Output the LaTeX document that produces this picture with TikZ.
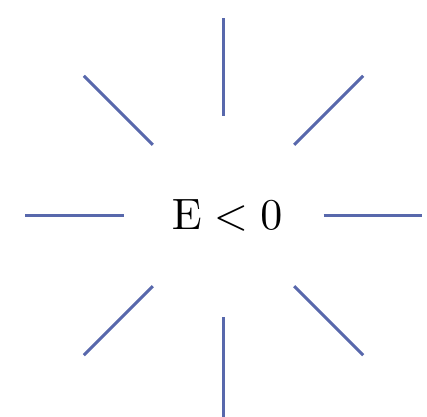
\documentclass[tikz,border=0pt]{standalone}
\definecolor{raycol}{RGB}{88,104,172}
\begin{document}
\begin{tikzpicture}[scale=0.8]
    \useasboundingbox (-2.235, -2.005) rectangle (2.035, 2.155);

    % 中间的文字
    \node (energy) at (0.035, 0) {$\mathrm{E} < 0$};

    % 横竖的线
    \draw[raycol, line width=0.7pt] (90:1) -- (90:1.975);
    \draw[raycol, line width=0.7pt] (270:1.015) -- (270:2.05);
    \draw[raycol, line width=0.7pt] (180:1) -- (180:1.985);
    \draw[raycol, line width=0.7pt] (0:1) -- (0:1.985);

    % 斜的线
    \draw[raycol, line width=0.7pt] (45:1) -- (45:1.975);
    \draw[raycol, line width=0.7pt] (135:1) -- (135:1.975);
    \draw[raycol, line width=0.7pt] (225:1) -- (225:1.975);
    \draw[raycol, line width=0.7pt] (315:1) -- (315:1.975);
\end{tikzpicture}
\end{document}
